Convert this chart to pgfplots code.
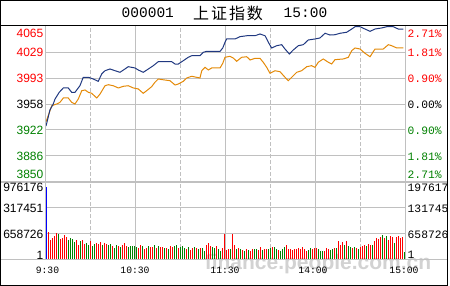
\documentclass[border=0pt]{standalone}
\usepackage{pgfplots}
\pgfplotsset{compat=1.18}
\usepackage{pgfplotstable}
\usepackage{fontspec}
\setmainfont{Liberation Sans}
\newfontfamily\monofont{Liberation Mono}
\newfontfamily\cjk{Noto Sans CJK SC}
\definecolor{gridgray}{RGB}{192,192,192}
\definecolor{navyline}{RGB}{32,56,128}
\definecolor{orangeline}{RGB}{228,138,8}
\definecolor{upred}{RGB}{255,0,0}
\definecolor{dngreen}{RGB}{0,128,0}
\definecolor{vblue}{RGB}{0,0,255}

\pgfplotstableread{
x v
1.5 709400
2.5 506700
3.5 557400
4.5 608100
5.5 684100
7.5 532100
8.5 557400
9.5 633400
10.5 582700
15.5 506700
16.5 380000
18.5 506700
19.5 405400
22.5 481400
25.5 430700
26.5 405400
27.5 456000
29.5 430700
30.5 405400
33.5 354700
36.5 354700
38.5 380000
39.5 430700
40.5 354700
46.5 304000
47.5 380000
49.5 278700
50.5 304000
52.5 329400
53.5 329400
55.5 304000
57.5 329400
58.5 329400
60.5 304000
62.5 354700
63.5 329400
66.5 304000
70.5 278700
72.5 253400
73.5 304000
75.5 304000
77.5 304000
80.5 380000
81.5 430700
82.5 354700
85.5 354700
88.5 304000
89.5 658700
90.5 253400
91.5 278700
93.5 658700
94.5 380000
96.5 304000
98.5 253400
100.5 278700
102.5 228000
103.5 278700
106.5 253400
107.5 329400
109.5 278700
110.5 278700
113.5 329400
116.5 253400
120.5 380000
121.5 278700
122.5 278700
123.5 253400
124.5 278700
125.5 278700
126.5 304000
127.5 278700
128.5 329400
129.5 278700
130.5 228000
133.5 278700
134.5 304000
135.5 304000
139.5 228000
140.5 304000
141.5 278700
144.5 304000
146.5 481400
147.5 380000
148.5 456000
150.5 481400
153.5 304000
155.5 304000
157.5 329400
158.5 354700
159.5 380000
161.5 405400
162.5 380000
164.5 481400
165.5 557400
166.5 532100
167.5 582700
169.5 557400
171.5 506700
172.5 608100
173.5 582700
175.5 582700
176.5 608100
177.5 557400
178.5 582700
}\redvol

\pgfplotstableread{
x v
6.5 658700
11.5 506700
12.5 557400
13.5 532100
14.5 456000
17.5 481400
20.5 430700
21.5 380000
23.5 354700
24.5 405400
28.5 380000
31.5 380000
32.5 405400
34.5 304000
35.5 380000
37.5 329400
41.5 329400
42.5 354700
43.5 354700
44.5 354700
45.5 329400
48.5 354700
51.5 354700
54.5 380000
56.5 354700
59.5 304000
61.5 278700
64.5 354700
65.5 380000
67.5 329400
68.5 354700
69.5 304000
71.5 329400
74.5 329400
76.5 278700
78.5 304000
79.5 228000
83.5 329400
84.5 304000
86.5 278700
87.5 228000
92.5 278700
95.5 278700
97.5 278700
99.5 228000
101.5 253400
104.5 278700
105.5 278700
108.5 253400
111.5 278700
112.5 304000
114.5 329400
115.5 278700
117.5 228000
118.5 278700
119.5 329400
131.5 253400
132.5 304000
136.5 278700
137.5 228000
138.5 228000
142.5 253400
143.5 278700
145.5 304000
149.5 380000
151.5 354700
152.5 329400
154.5 329400
156.5 278700
160.5 354700
163.5 380000
168.5 633400
170.5 608100
174.5 430700
179.5 202700
}\greenvol

\begin{document}
\begin{tikzpicture}[x=1pt,y=1pt]
\path[use as bounding box] (0,0) rectangle (450,286);

% watermark
\node[text=gray!35, font=\fontsize{21}{21}\selectfont\bfseries, anchor=center] at (318,22) {finance.people.com.cn};

% volume panel
\begin{axis}[at={(45pt,26pt)}, anchor=south west, scale only axis,
  width=360pt, height=78pt, xmin=0, xmax=180, ymin=0, ymax=1976176,
  axis line style={draw=none}, major tick length=0, minor tick length=0,
  xtick={45,90,135}, minor xtick={22.5,67.5,112.5,157.5},
  ytick={658725,1317451}, xticklabels={}, yticklabels={},
  xmajorgrids, xminorgrids, ymajorgrids,
  major grid style={draw=gridgray, line width=1pt},
  minor grid style={draw=gridgray, line width=1pt, dash pattern=on 4pt off 2pt},
  scaled y ticks=false]
\addplot[ycomb, draw=upred, line width=1pt, mark=none] table[x=x,y=v] {\redvol};
\addplot[ycomb, draw=dngreen, line width=1pt, mark=none] table[x=x,y=v] {\greenvol};
\addplot[ycomb, draw=vblue, line width=1pt, mark=none] coordinates {(0.5,1849500)};
\end{axis}

% price panel
\begin{axis}[at={(45pt,104.4pt)}, anchor=south west, scale only axis,
  width=360pt, height=155.1pt, xmin=0, xmax=240, ymin=3850, ymax=4065,
  axis line style={draw=none}, major tick length=0, minor tick length=0,
  xtick={60,120,180}, minor xtick={30,90,150,210},
  ytick={3885.83,3921.67,3957.5,3993.33,4029.17}, xticklabels={}, yticklabels={},
  xmajorgrids, xminorgrids, ymajorgrids,
  major grid style={draw=gridgray, line width=1pt},
  minor grid style={draw=gridgray, line width=1pt, dash pattern=on 4pt off 2pt}]
\addplot[draw=orangeline, line width=1pt, mark=none] coordinates {
(0.7,3933) (4.5,3955.2) (7.8,3957.6) (10,3959.9) (12.2,3965.9) (15.5,3965.9)
(17.8,3959.9) (20,3957.6) (22.2,3964.5) (24.5,3976) (26.7,3977) (28.9,3973.8)
(31.1,3972.4) (34.5,3965.9) (36.7,3971.4) (40,3982.9) (42.2,3984.3) (45.5,3982.9)
(48.9,3979.8) (52.2,3982.1) (55.5,3982.9) (58.9,3979.8) (62.2,3978.4) (65.5,3972.4)
(67.8,3976) (71.1,3981.6) (73.3,3987.7) (75.5,3992.2) (80,3990.8) (83.3,3989.9)
(86.7,3983.9) (88.9,3985.3) (92.2,3989) (94.5,3993.6) (97.8,3996) (103.3,3993.6)
(104.5,4003.7) (106.7,4008.4) (108.9,4004.7) (111.1,4007.5) (116.7,4007.5) (118.5,4014)
(120,4022.3) (123.3,4023.7) (125.5,4021.3) (127.8,4016.8) (131.1,4022.3) (134.5,4023.1)
(136.7,4018.6) (140,4020.9) (143.3,4020.9) (145.5,4015.4) (147.8,4008.4) (150,4000.1)
(153.3,4003.7) (156.7,4002.3) (160,3994.6) (162.2,3989.9) (164.5,3994.6) (167.8,4001.5)
(171.1,4003.7) (174.5,4009.3) (177.8,4010.7) (180,4008.4) (182.2,4015.4) (185.5,4020)
(188.9,4015.4) (191.1,4013) (193.3,4019) (198.9,4020) (202.2,4022.3) (204.5,4031.5)
(206.7,4035.2) (210,4033.8) (213.3,4027.9) (216.7,4023.1) (220,4033.8) (225.5,4033.8)
(228.9,4039.8) (231.1,4038.4) (234.5,4035.2) (238.9,4035.2)
};
\addplot[draw=navyline, line width=1pt, mark=none] coordinates {
(0.7,3927.1) (3.3,3949.3) (5.5,3957.6) (6.7,3964.5) (9.5,3973.8) (12.2,3979.8)
(15.5,3979.8) (17.8,3973.8) (20,3973.8) (23.3,3982.9) (25.5,3994.6) (28.9,3994.6)
(32.2,3992.2) (35.5,3989) (37.8,3999.2) (40,4003.7) (43.3,4006.1) (46.7,4003.7)
(50,4001.5) (53.3,4006.1) (55.5,4009.3) (60,4007.5) (62.2,4004.7) (65.5,4001.5)
(68.9,4006.1) (72.2,4010.7) (75.5,4016.2) (84.5,4016.2) (86.7,4013) (88.9,4013)
(92.2,4017.6) (95.5,4022.3) (97.8,4024.5) (103.3,4024.5) (105.5,4029.2) (107.8,4030.6)
(116.7,4030.6) (118.5,4035.2) (120,4043.1) (121.1,4047.7) (126.7,4047.7) (130,4050.9)
(134.5,4052.2) (140,4052.2) (143.3,4054.6) (146.7,4052.2) (148.9,4043.1) (151.1,4035.2)
(154.5,4038.4) (157.8,4039.8) (160,4033.8) (162.9,4026.9) (165.5,4032.4) (168.9,4038.4)
(172.2,4039.8) (175.5,4046.3) (180,4047.7) (183.3,4049.1) (186.7,4055.6) (190,4053.2)
(193.3,4053.6) (196.7,4055.6) (201.1,4057) (204.5,4061.5) (206.7,4064.7) (210,4064.7)
(213.3,4061.5) (216.7,4058.3) (220,4061.5) (224.5,4063) (227.8,4064.7) (232.2,4064.7)
(235.5,4061.5) (238.9,4061.5)
};
\end{axis}

% frame lines
\draw[gridgray, line width=1pt] (45,26) -- (45,259.5);
\draw[gridgray, line width=1pt] (405,26) -- (405,259.5);
\draw[gridgray, line width=2pt] (0,104.3) -- (448,104.3);
\draw[gridgray, line width=1pt] (0,26) -- (448,26);
\draw[black, line width=1pt] (0,260) -- (448,260);
\draw[black, line width=1pt] (0.5,0.5) rectangle (447.5,285.5);

% title
\node[anchor=west, inner sep=0, font=\monofont\fontsize{14.5}{14.5}\selectfont] at (121.5,273) {000001};
\node[anchor=west, inner sep=0, font=\cjk\fontsize{16}{16}\selectfont\addfontfeature{LetterSpace=12}] at (193,273) {上证指数};
\node[anchor=west, inner sep=0, font=\monofont\fontsize{14.5}{14.5}\selectfont] at (283.5,273) {15:00};

% left price labels
\begin{scope}[every node/.style={anchor=east, inner sep=0, font=\fontsize{12}{12}\selectfont}]
\node[text=upred] at (43.5,253) {4065};
\node[text=upred] at (43.5,233.7) {4029};
\node[text=upred] at (43.5,208) {3993};
\node[text=black] at (43.5,181.3) {3958};
\node[text=dngreen] at (43.5,156) {3922};
\node[text=dngreen] at (43.5,130) {3886};
\node[text=dngreen] at (43.5,111.3) {3850};
\node at (43.5,99) {976176};
\node at (43.5,77.7) {317451};
\node at (43.5,52) {658726};
\node at (43.5,31) {1};
\end{scope}

% right labels
\begin{scope}[every node/.style={anchor=west, inner sep=0, font=\monofont\fontsize{11.3}{11.3}\selectfont}]
\node[text=upred] at (407.5,252.7) {2.71\%};
\node[text=upred] at (407.5,233.5) {1.81\%};
\node[text=upred] at (407.5,207.7) {0.90\%};
\node[text=black] at (407.5,181.3) {0.00\%};
\node[text=dngreen] at (407.5,155.7) {0.90\%};
\node[text=dngreen] at (407.5,129.3) {1.81\%};
\node[text=dngreen] at (407.5,111) {2.71\%};
\node at (407.5,98) {197617};
\node at (407.5,77.7) {131745};
\node at (407.5,51) {658726};
\node at (407.5,31) {1};
\end{scope}

% time labels
\begin{scope}[every node/.style={anchor=center, inner sep=0, font=\monofont\fontsize{9.7}{9.7}\selectfont}]
\node at (47.5,16) {9:30};
\node at (135,16) {10:30};
\node at (225,16) {11:30};
\node at (313,16) {14:00};
\node at (404,16) {15:00};
\end{scope}
\end{tikzpicture}
\end{document}
